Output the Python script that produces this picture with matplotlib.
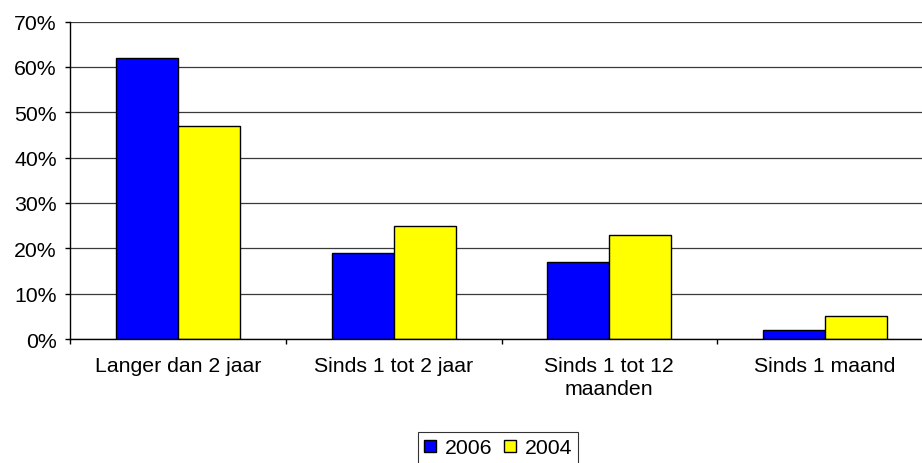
#!/usr/bin/env python3

import numpy as np
from matplotlib import pyplot as plt
from matplotlib.lines import Line2D
from matplotlib.ticker import PercentFormatter

categories = ["Langer dan 2 jaar", "Sinds 1 tot 2 jaar", "Sinds 1 tot 12\nmaanden", "Sinds 1 maand"]
series_names = ["2006", "2004"]
values_2006 = [62, 19, 17, 2]
values_2004 = [47, 25, 23, 5]
colors = ["#0000ff", "#ffff00"]

plt.rcParams["font.family"] = ["Liberation Sans", "DejaVu Sans"]
plt.rcParams["font.size"] = 15.3

fig = plt.figure(figsize=(9.22, 4.64), dpi=100)
ax = fig.add_axes([70 / 922, 124 / 464, 863 / 922, 317.5 / 464])

x = np.arange(len(categories))
w = 0.287
ax.bar(x - w / 2, values_2006, w, color=colors[0], edgecolor="black", linewidth=1, zorder=3)
ax.bar(x + w / 2, values_2004, w, color=colors[1], edgecolor="black", linewidth=1, zorder=3)

ax.set_xlim(-0.5, len(categories) - 0.5)
ax.set_ylim(0, 70)
ax.set_yticks(range(0, 71, 10))
ax.yaxis.set_major_formatter(PercentFormatter(decimals=0))
ax.yaxis.grid(True, color="#3a3a3a", linewidth=0.9, zorder=0)

# category labels centred, ticks on the category boundaries
ax.set_xticks(np.arange(-0.5, len(categories), 1.0))
ax.set_xticklabels([])
ax.set_xticks(x, minor=True)
ax.set_xticklabels(categories, minor=True, linespacing=1.3)
ax.tick_params(axis="x", which="minor", length=0, pad=12)
ax.tick_params(axis="x", which="major", length=3.6, width=1, direction="out")
ax.tick_params(axis="y", length=3.6, width=1, direction="out", pad=6)

for side in ["top", "right"]:
	ax.spines[side].set_visible(False)
for side in ["left", "bottom"]:
	ax.spines[side].set_color("black")
	ax.spines[side].set_linewidth(1)
	ax.spines[side].set_zorder(4)

handles = [Line2D([], [], linestyle="none", marker="s", markersize=8, markerfacecolor=c,
		markeredgecolor="black", markeredgewidth=1) for c in colors]
leg = fig.legend(handles, series_names, loc="upper center", bbox_to_anchor=(498 / 922, 1 - 433 / 464), ncol=2,
		frameon=True, fancybox=False, edgecolor="black", handlelength=0.6,
		handletextpad=0.4, columnspacing=0.5, borderpad=0.3, borderaxespad=0, fontsize=15.3)
leg.get_frame().set_linewidth(0.8)

plt.savefig("out.png", dpi=100)
plt.close()
